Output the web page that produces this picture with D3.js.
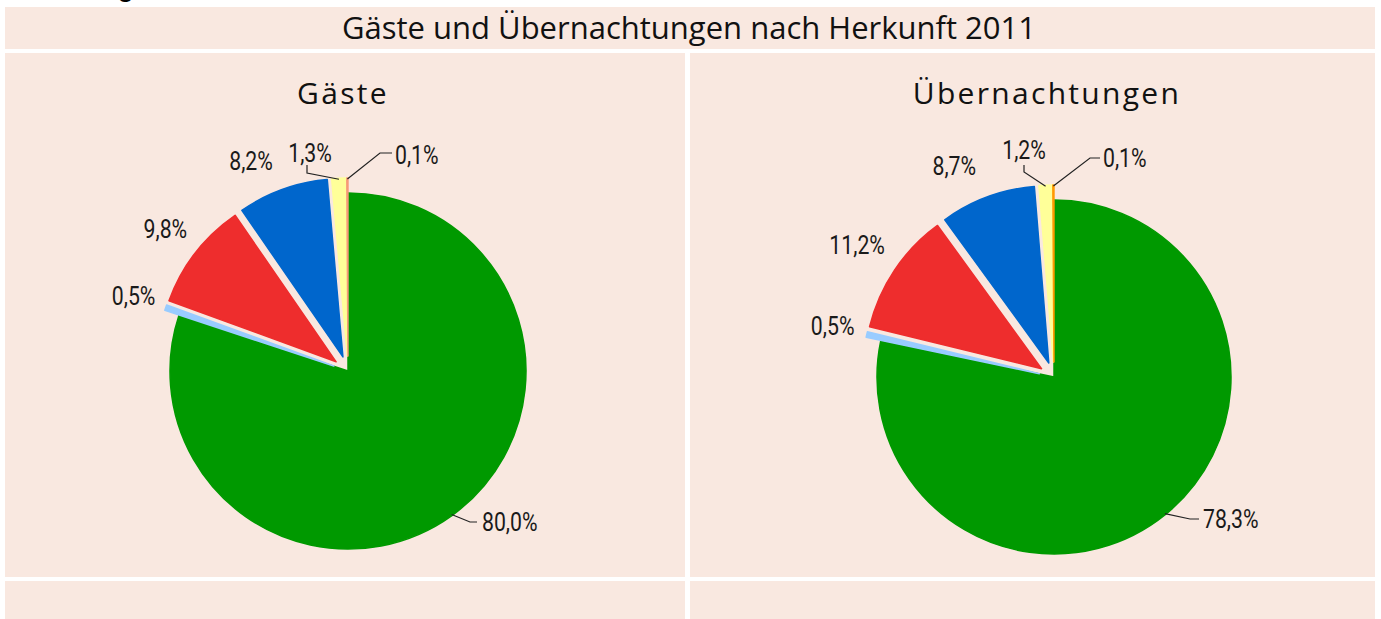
<!DOCTYPE html>
<html>
<head>
<meta charset="utf-8">
<script src="https://cdn.jsdelivr.net/npm/d3@7"></script>
<style>
  body { margin: 0; background: #fff; }
  svg { display: block; }
</style>
</head>
<body>
<svg id="chart" width="1381" height="619"></svg>
<script>
// data
const categories = ['Herkunft 1', 'Herkunft 2', 'Herkunft 3', 'Herkunft 4', 'Herkunft 5', 'Herkunft 6'];
const gaeste = [80.0, 0.5, 9.8, 8.2, 1.3, 0.1];
const uebernachtungen = [78.3, 0.5, 11.2, 8.7, 1.2, 0.1];
const chartTitle = 'Gäste und Übernachtungen nach Herkunft 2011';
const pieTitles = ['Gäste', 'Übernachtungen'];

const bg = '#f9e8e0';
const colorsLeft = ['#009900', '#99ccff', '#ee2d2d', '#0066cc', '#ffff99', '#f79a78'];
const colorsRight = ['#009900', '#99ccff', '#ee2d2d', '#0066cc', '#ffff99', '#ff9900'];
const explode = 15;
const narrow = 0.85; // horizontale Stauchung der Beschriftungen

const locale = d3.formatLocale({ decimal: ',', thousands: '.', grouping: [3], currency: ['', '€'] });
const fmt = v => locale.format('.1f')(v) + '%';

const svg = d3.select('#chart');

// Hintergrundflächen
svg.append('rect').attr('x', 5).attr('y', 7).attr('width', 1370).attr('height', 42).attr('fill', bg);
svg.append('rect').attr('x', 5).attr('y', 53).attr('width', 680).attr('height', 524).attr('fill', bg);
svg.append('rect').attr('x', 690).attr('y', 53).attr('width', 685).attr('height', 524).attr('fill', bg);
svg.append('rect').attr('x', 5).attr('y', 581).attr('width', 680).attr('height', 40).attr('fill', bg);
svg.append('rect').attr('x', 690).attr('y', 581).attr('width', 685).attr('height', 40).attr('fill', bg);

// abgeschnittene Überschrift oben (wie im Original nur angeschnitten)
svg.append('text').attr('x', 5).attr('y', -3)
  .style('font-family', 'Liberation Sans').style('font-weight', 'bold').style('font-size', '26px')
  .text('Abbildung');

svg.append('text').attr('x', 689).attr('y', 39).attr('text-anchor', 'middle')
  .style('font-family', 'Open Sans').style('font-size', '31px').attr('fill', '#111')
  .text(chartTitle);

const pies = [
  {
    values: gaeste, colors: colorsLeft, title: pieTitles[0], tx: 343,
    cx: 348, cy: 371, r: 178,
    labels: [
      { bend: [122, 151], end: [129, 151], text: [134, 151], anchor: 'start' },
      { radial: 227, shift: 0 },
      { radial: 231, shift: 0 },
      { radial: 231, shift: -5 },
      { bend: [-41, -198], end: [-41, -206], text: [-38, -218], anchor: 'middle' },
      { bend: [32, -218], end: [44, -218], text: [47, -216], anchor: 'start' }
    ]
  },
  {
    values: uebernachtungen, colors: colorsRight, title: pieTitles[1], tx: 1047,
    cx: 1054, cy: 377, r: 177,
    labels: [
      { bend: [136, 142], end: [145, 142], text: [149, 142], anchor: 'start' },
      { radial: 227, shift: 0 },
      { radial: 237, shift: 0 },
      { radial: 233, shift: -5 },
      { bend: [-30, -205], end: [-30, -212], text: [-30, -227], anchor: 'middle' },
      { bend: [36, -219], end: [46, -219], text: [49, -219], anchor: 'start' }
    ]
  }
];

const pie = d3.pie().sort(null).value(d => d);

function label(g, x, y, anchor, txt) {
  g.append('text')
    .attr('transform', `translate(${x},${y}) scale(${narrow},1)`)
    .attr('text-anchor', anchor)
    .attr('dominant-baseline', 'central')
    .style('font-family', 'Roboto').style('font-size', '25px').attr('fill', '#1a1a1a')
    .text(txt);
}

pies.forEach(p => {
  svg.append('text').attr('x', p.tx).attr('y', 104).attr('text-anchor', 'middle')
    .style('font-family', 'Open Sans').style('font-size', '30px').style('letter-spacing', '2.3px')
    .attr('fill', '#111')
    .text(p.title);

  const g = svg.append('g').attr('transform', `translate(${p.cx},${p.cy})`);
  const arc = d3.arc().innerRadius(0).outerRadius(p.r);
  const arcs = pie(p.values);

  arcs.forEach((a, i) => {
    const mid = (a.startAngle + a.endAngle) / 2;
    const off = i === 0 ? 0 : explode;
    const ox = off * Math.sin(mid), oy = -off * Math.cos(mid);
    g.append('path')
      .attr('d', arc(a))
      .attr('transform', `translate(${ox},${oy})`)
      .attr('fill', p.colors[i])
      .attr('stroke', p.colors[i])
      .attr('stroke-width', 1.5)
      .attr('stroke-linejoin', 'round');

    const lab = p.labels[i];
    const txt = fmt(p.values[i]);

    if (lab.radial) {
      const ang = mid + lab.shift * Math.PI / 180;
      label(g, lab.radial * Math.sin(ang), -lab.radial * Math.cos(ang), 'middle', txt);
    } else {
      const sx = ox + (p.r - 1) * Math.sin(mid);
      const sy = oy - (p.r - 1) * Math.cos(mid);
      g.append('path')
        .attr('d', d3.line()([[sx, sy], lab.bend, lab.end]))
        .attr('fill', 'none').attr('stroke', '#222').attr('stroke-width', 1.2);
      label(g, lab.text[0], lab.text[1], lab.anchor, txt);
    }
  });
});
</script>
</body>
</html>
